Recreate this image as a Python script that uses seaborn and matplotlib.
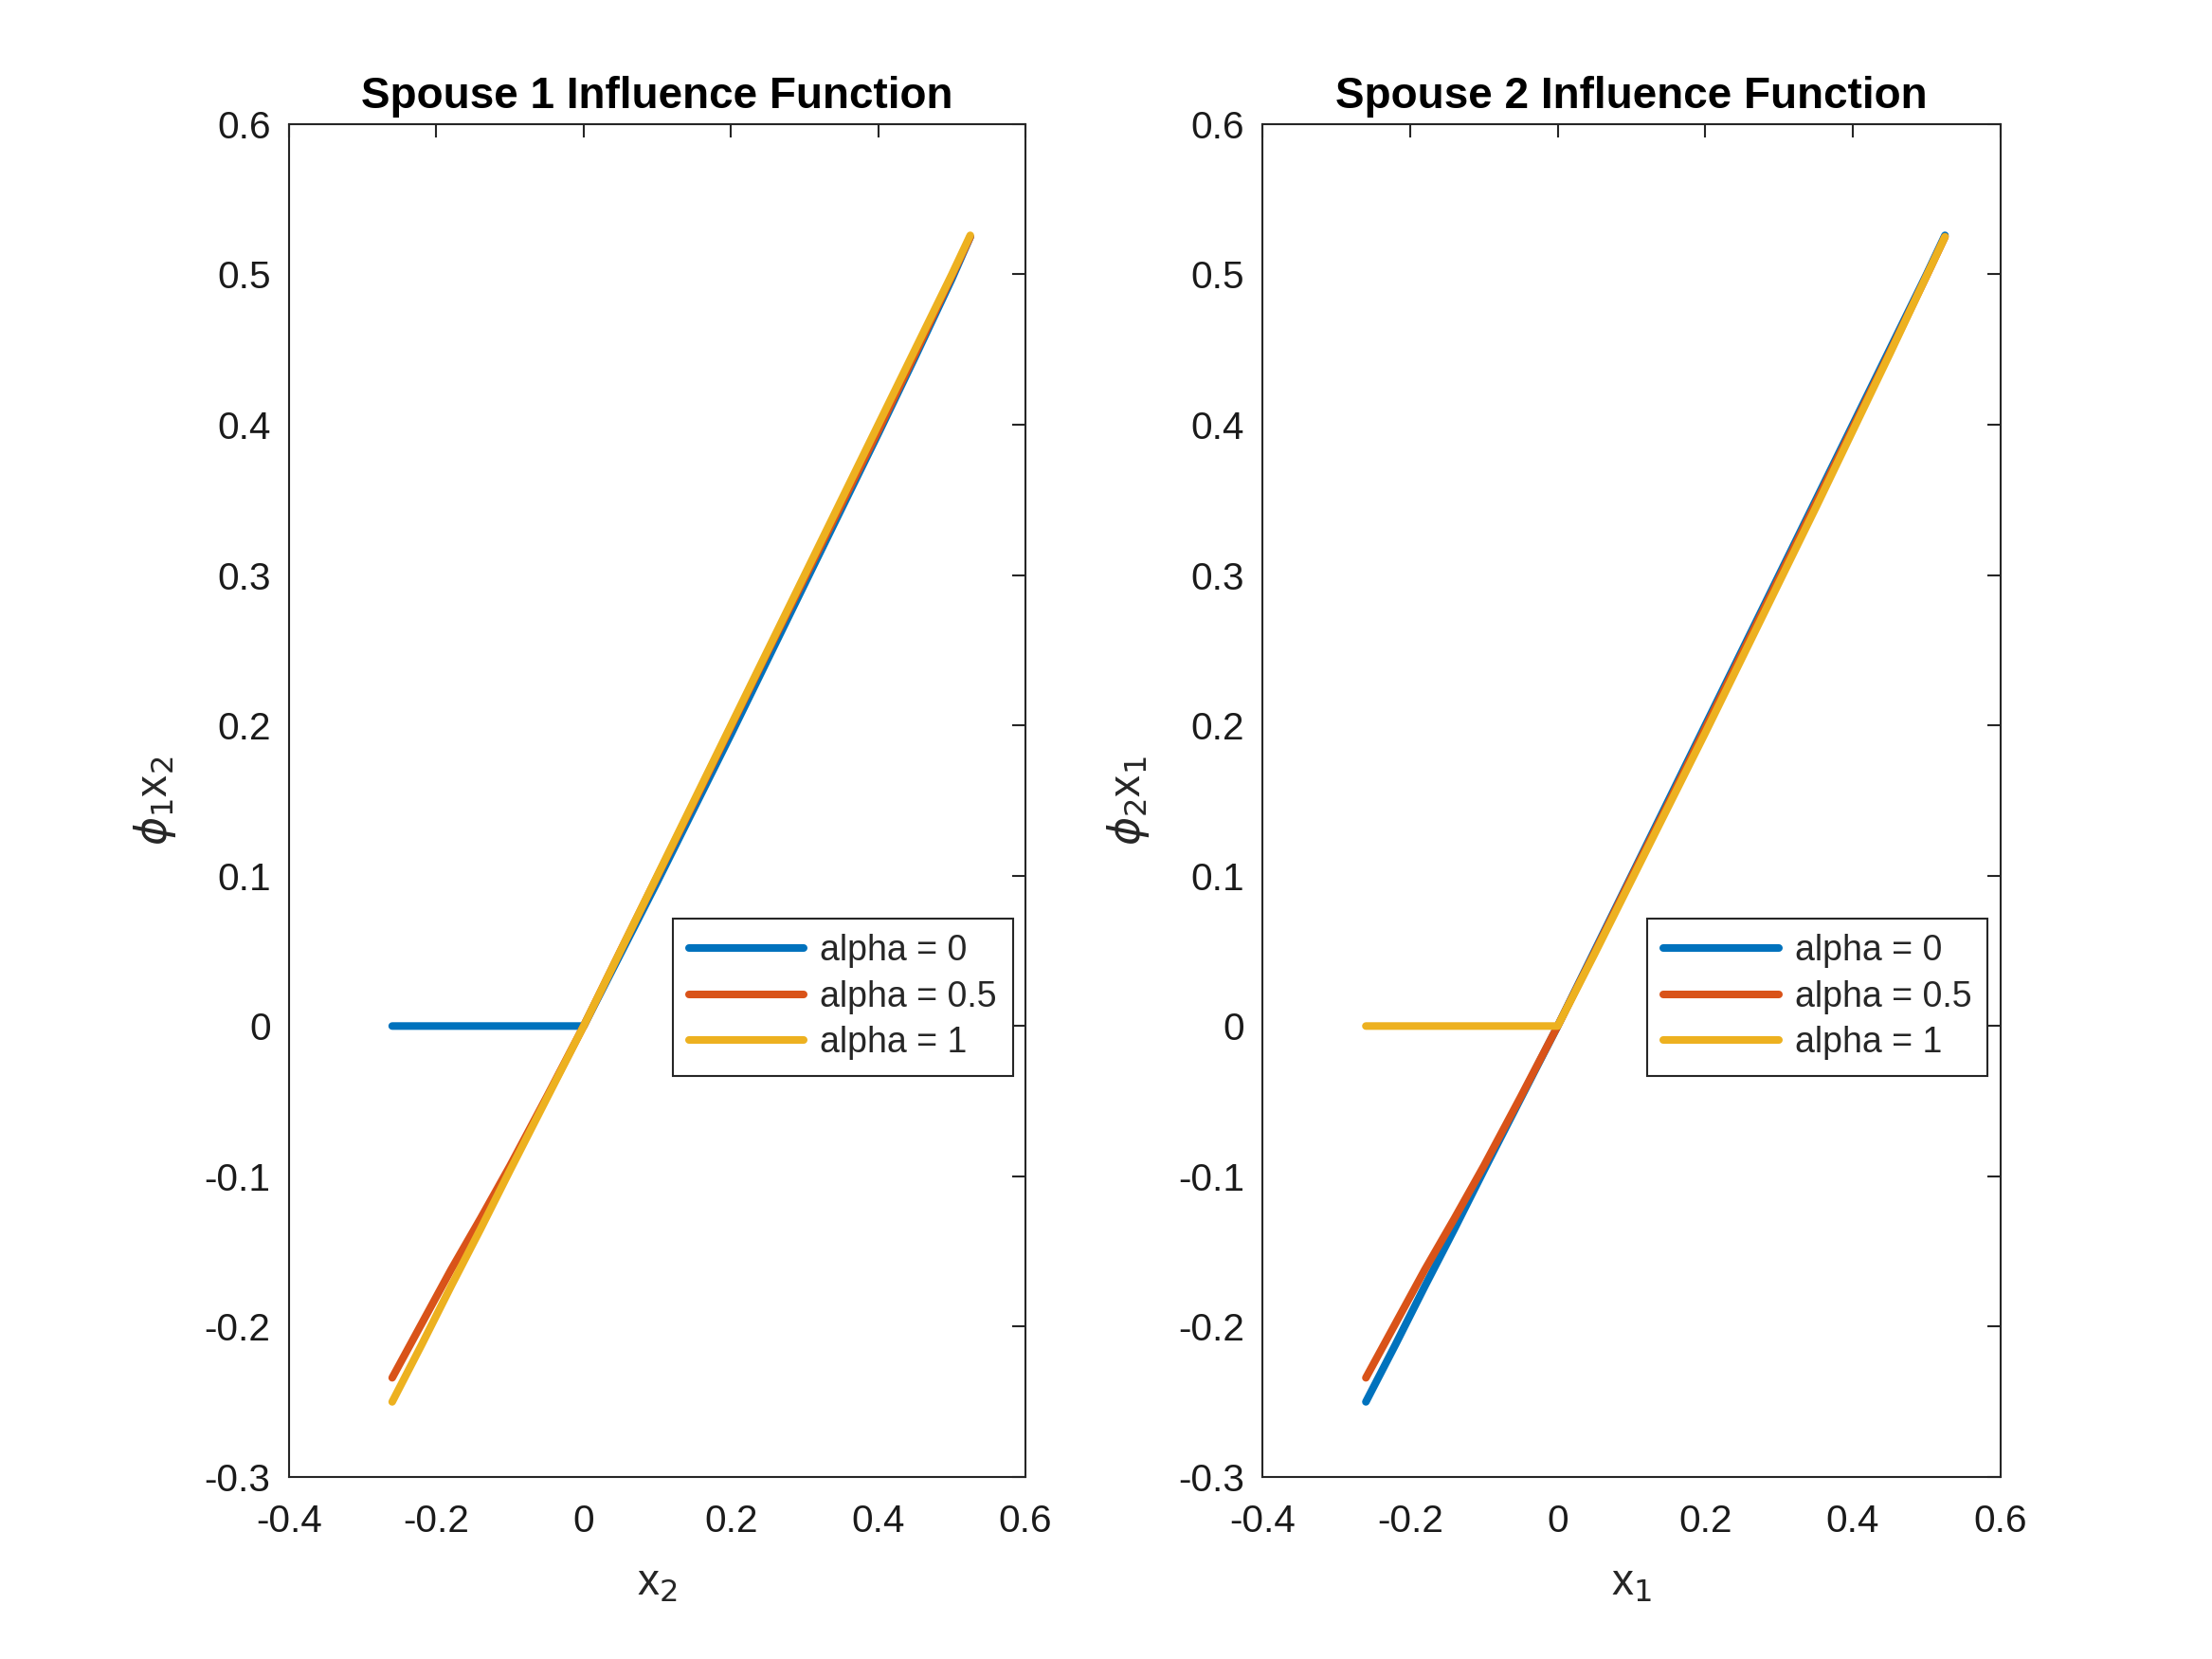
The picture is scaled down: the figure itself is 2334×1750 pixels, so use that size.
import numpy as np
import pandas as pd
import matplotlib
matplotlib.use('Agg')
import matplotlib.pyplot as plt
import seaborn as sns

# shared x grid for both panels
x_grid = [-0.26, -0.22, -0.18, -0.14, -0.10, -0.05, 0.0, 0.05, 0.10, 0.15,
          0.20, 0.25, 0.30, 0.35, 0.40, 0.45, 0.50, 0.525]

# Spouse 1 influence function (phi_1 x_2)
s1_alpha0 = [0.0, 0.0, 0.0, 0.0, 0.0, 0.0, 0.0, 0.048, 0.096, 0.145,
             0.194, 0.244, 0.294, 0.344, 0.394, 0.445, 0.497, 0.525]
s1_alpha05 = [-0.234, -0.198, -0.162, -0.128, -0.093, -0.047, 0.0, 0.050, 0.0995, 0.149,
              0.199, 0.249, 0.298, 0.347, 0.396, 0.447, 0.499, 0.525]
s1_alpha1 = [-0.250, -0.212, -0.173, -0.135, -0.096, -0.048, 0.0, 0.050, 0.100, 0.150,
             0.200, 0.250, 0.300, 0.350, 0.400, 0.450, 0.500, 0.526]

# Spouse 2 influence function (phi_2 x_1)
s2_alpha0 = [-0.250, -0.212, -0.173, -0.135, -0.096, -0.048, 0.0, 0.050, 0.100, 0.150,
             0.200, 0.250, 0.300, 0.350, 0.400, 0.450, 0.500, 0.526]
s2_alpha05 = [-0.234, -0.198, -0.162, -0.128, -0.093, -0.047, 0.0, 0.049, 0.099, 0.148,
              0.198, 0.248, 0.298, 0.348, 0.398, 0.448, 0.499, 0.525]
s2_alpha1 = [0.0, 0.0, 0.0, 0.0, 0.0, 0.0, 0.0, 0.048, 0.097, 0.146,
             0.195, 0.245, 0.295, 0.345, 0.396, 0.447, 0.499, 0.525]

series_names = ['alpha = 0', 'alpha = 0.5', 'alpha = 1']
colors = ['#0072BD', '#D95319', '#EDB120']

x_ticks = [-0.4, -0.2, 0, 0.2, 0.4, 0.6]
x_ticklabels = ['-0.4', '-0.2', '0', '0.2', '0.4', '0.6']
y_ticks = [-0.3, -0.2, -0.1, 0, 0.1, 0.2, 0.3, 0.4, 0.5, 0.6]
y_ticklabels = ['-0.3', '-0.2', '-0.1', '0', '0.1', '0.2', '0.3', '0.4', '0.5', '0.6']


def make_long_df(ys):
    frames = []
    for name, y in zip(series_names, ys):
        frames.append(pd.DataFrame({'x': x_grid, 'y': y, 'series': name}))
    return pd.concat(frames, ignore_index=True)


sns.set_theme(style='white')
plt.rcParams['font.family'] = ['Liberation Sans', 'DejaVu Sans']
plt.rcParams['mathtext.fontset'] = 'dejavusans'
plt.rcParams['axes.unicode_minus'] = False
plt.rcParams['axes.edgecolor'] = '#262626'
plt.rcParams['axes.linewidth'] = 0.75

fig = plt.figure(figsize=(11.67, 8.75), dpi=200)
positions = [[0.1307, 0.1097, 0.3329, 0.8155], [0.5708, 0.1097, 0.3335, 0.8155]]
panels = [
    ('Spouse 1 Influence Function', [s1_alpha0, s1_alpha05, s1_alpha1],
     'x$_2$', r'$\phi_1$x$_2$'),
    ('Spouse 2 Influence Function', [s2_alpha0, s2_alpha05, s2_alpha1],
     'x$_1$', r'$\phi_2$x$_1$'),
]

for pos, (title, ys, xlab, ylab) in zip(positions, panels):
    ax = fig.add_axes(pos)
    df = make_long_df(ys)
    sns.lineplot(data=df, x='x', y='y', hue='series', hue_order=series_names,
                 palette=colors, sort=False, estimator=None, linewidth=2.9, ax=ax)

    ax.set_xlim(-0.4, 0.6)
    ax.set_ylim(-0.3, 0.6)
    ax.set_xticks(x_ticks)
    ax.set_xticklabels(x_ticklabels)
    ax.set_yticks(y_ticks)
    ax.set_yticklabels(y_ticklabels)
    ax.tick_params(direction='in', length=5, width=0.75, colors='#262626',
                   labelcolor='#1a1a1a', labelsize=14.6, top=True, right=True)
    ax.tick_params(axis='x', pad=10)
    ax.tick_params(axis='y', pad=7)
    for sp in ax.spines.values():
        sp.set_visible(True)

    ax.set_title(title, fontsize=16.5, fontweight='bold', color='black', pad=6)
    ax.set_xlabel(xlab, fontsize=16.5, color='#262626', labelpad=9)
    ax.set_ylabel(ylab, fontsize=16.5, color='#262626', labelpad=10)

    leg = ax.legend(loc='upper right', bbox_to_anchor=(0.983, 0.413), fontsize=13.5,
                    frameon=True, fancybox=False, framealpha=1, handlelength=3.25,
                    handletextpad=0.45, borderpad=0.45, labelspacing=0.33,
                    borderaxespad=0)
    leg.get_frame().set_edgecolor('#262626')
    leg.get_frame().set_linewidth(0.75)

fig.savefig('out.png', dpi=200, facecolor='white')
